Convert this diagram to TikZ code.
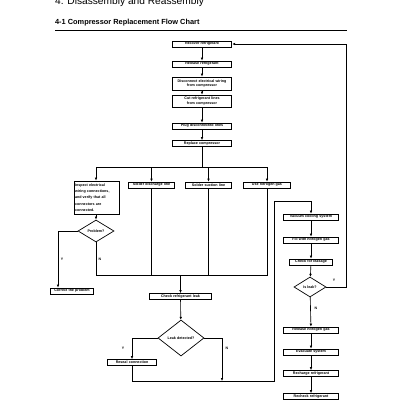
\documentclass[tikz,border=0pt]{standalone}
\usepackage{fontspec}
\setmainfont{Liberation Sans}
\usetikzlibrary{shapes.geometric,arrows.meta}

\begin{document}
\begin{tikzpicture}[x=0.5mm, y=-0.5mm,
        box/.style={draw, line width=1pt, align=center, inner xsep=0.4mm, inner ysep=0.5pt,
                    text width=#1, minimum height=3mm, font=\fontsize{5.2}{6}\selectfont\bfseries},
        decision/.style={draw, diamond, line width=1pt, inner sep=0pt, font=\fontsize{5.2}{6}\selectfont\bfseries},
        link/.style={line width=0.9pt},
        arr/.style={line width=0.9pt, -{Latex[length=1.5mm, width=1.3mm]}},
        yn/.style={font=\fontsize{5}{6}\selectfont\bfseries}]
        % Fix the page size
        \useasboundingbox (0,0) rectangle (400,400);

        % Headings
        \node[anchor=base west, inner sep=0pt, font=\fontsize{14.5}{16}\selectfont] (chapter) at (55,5) {4. Disassembly and Reassembly};
        \node[anchor=base west, inner sep=0pt, font=\fontsize{10.5}{12}\selectfont\bfseries] (section) at (55,25) {4-1 Compressor Replacement Flow Chart};
        \coordinate (ruleL) at (55,30);
        \coordinate (ruleR) at (347,30);
        \draw[line width=1.3pt] (ruleL) -- (ruleR);

        % Main column
        \node[box=29mm] (recover) at (202,44) {Recover refrigerant};
        \node[box=29mm] (release) at (202,64) {Release refrigerant};
        \node[box=29mm, minimum height=6.5mm] (wiring) at (202,83.5) {Disconnect electrical wiring\\from compressor};
        \node[box=29mm, minimum height=6mm] (lines) at (202,101) {Cut refrigerant lines\\from compressor};
        \node[box=29mm] (plug) at (202,126) {Plug disconnected lines};
        \node[box=29mm] (replace) at (202,143.5) {Replace compressor};

        % The four jobs
        \node[box=22mm, align=left, minimum height=16.5mm, font=\fontsize{5.2}{9}\selectfont\bfseries] (inspect) at (97,197.5) {Inspect electrical\\wiring connections,\\and verify that all\\connectors are\\connected.};
        \node[box=22.5mm] (discharge) at (151.5,185) {Solder discharge line};
        \node[box=22.5mm] (suction) at (208.5,185) {Solder suction line};
        \node[box=23mm] (nitrogen) at (267,185) {Use nitrogen gas};

        % Left branch
        \node[decision, minimum width=18mm, minimum height=11mm] (problem) at (96,231) {Problem?};
        \node[box=21mm] (correct) at (72,291) {Correct the problem};
        \node[box=30.5mm] (check) at (180.5,296.5) {Check refrigerant leak};
        \node[decision, minimum width=23mm, minimum height=18mm] (leak) at (181,338) {Leak detected?};
        \node[box=24mm] (reseal) at (132,362.5) {Reseal connection};

        % Right column
        \node[box=27mm] (vacuum) at (311,217) {Vacuum cooling system};
        \node[box=27mm] (fill) at (311,240) {Fill with nitrogen gas};
        \node[box=21mm] (test) at (311,262) {Check for leakage};
        \node[decision, minimum width=16mm, minimum height=10mm] (isleak) at (310,287) {Is leak?};
        \node[box=27mm] (purge) at (311,330) {Release nitrogen gas};
        \node[box=27mm] (evacuate) at (311,352) {Evacuate system};
        \node[box=27mm] (charge) at (311,373.5) {Recharge refrigerant};
        \node[box=27mm] (recheck) at (311,396.5) {Recheck refrigerant};

        % Draw the main column arrows
        \draw[arr] (recover) -- (release);
        \draw[arr] (release) -- (wiring);
        \draw[arr] (wiring) -- (lines);
        \draw[arr] (lines) -- (plug);
        \draw[arr] (plug) -- (replace);

        % Split into the four jobs
        \coordinate (split) at (202,167);
        \coordinate (splitL) at (96,167);
        \coordinate (splitR) at (267,167);
        \draw[link] (replace) -- (split);
        \draw[link] (splitL) -- (splitR);
        \foreach \job in {discharge, suction, nitrogen}
            \draw[arr] (\job |- split) -- (\job.north);
        \draw[arr] (splitL) -- (splitL |- inspect.north);
        \draw[arr] (splitL |- inspect.south) -- (problem);

        % Problem? Y / N
        \coordinate (ycorner) at (58,231);
        \draw[arr] (problem.west) -- (ycorner) -- (ycorner |- correct.north);
        \coordinate (merge) at (96,275);
        \draw[link] (problem.south) -- (merge) -- (nitrogen |- merge) -- (nitrogen.south);
        \draw[link] (discharge) -- (discharge |- merge);
        \draw[link] (suction) -- (suction |- merge);
        \draw[arr] (check |- merge) -- (check);
        \draw[arr] (check) -- (leak);

        % Leak detected? Y / N
        \draw[arr] (leak.west) -| (reseal.north);
        \coordinate (join) at (222,381);
        \draw[arr] (leak.east) -| (join);
        \coordinate (loop) at (274,381);
        \coordinate (turn) at (274,201);
        \draw[arr] (reseal.south) |- (loop) -- (turn) -| (vacuum.north);

        % Draw the right column arrows
        \draw[arr] (vacuum) -- (fill);
        \draw[arr] (fill) -- (test);
        \draw[arr] (test) -- (isleak);
        \draw[arr] (isleak) -- (purge);
        \draw[arr] (purge) -- (evacuate);
        \draw[arr] (evacuate) -- (charge);
        \draw[arr] (charge) -- (recheck);

        % Leak found, start again
        \coordinate (back) at (346,44);
        \draw[arr] (isleak.east) -| (back) -- (recover.east);

        % Label the branches
        \node[yn] (y1) at (62,259) {Y};
        \node[yn] (n1) at (100,259) {N};
        \node[yn] (y2) at (123,348) {Y};
        \node[yn] (n2) at (227,348) {N};
        \node[yn] (y3) at (334,280) {Y};
        \node[yn] (n3) at (316,308) {N};
\end{tikzpicture}
\end{document}
